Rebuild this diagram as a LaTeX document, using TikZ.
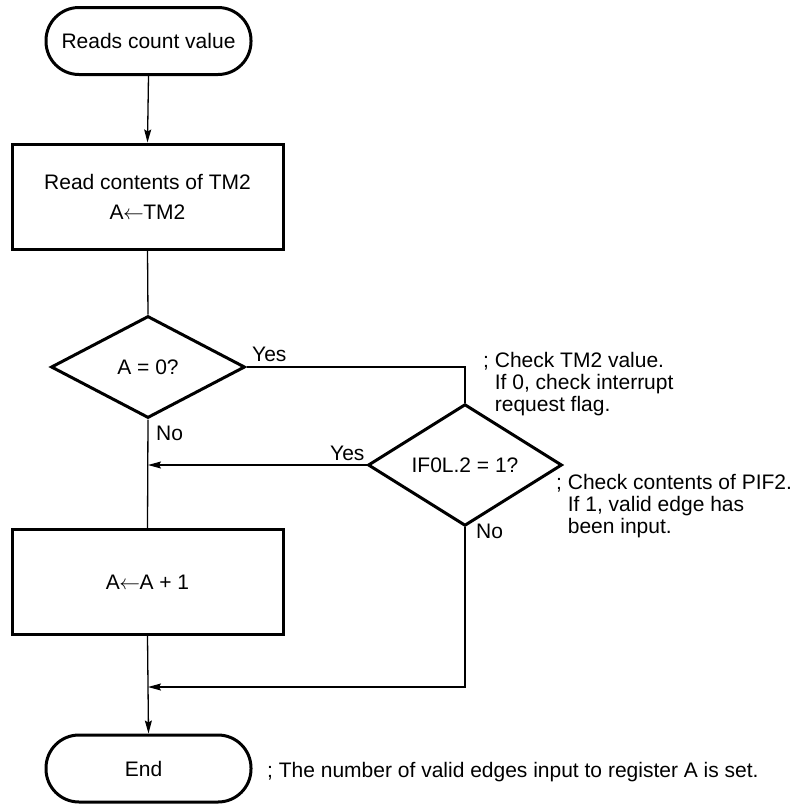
\documentclass[tikz,border=0pt]{standalone}
\usepackage{fontspec}
\setmainfont{Liberation Sans}
\usetikzlibrary{shapes.geometric,arrows.meta}
\newcommand{\assignarrow}{\kern-0.5pt$\leftarrow$\kern-0.5pt}
\begin{document}
\begin{tikzpicture}[x=1pt,y=-1pt,
  font=\fontsize{21}{23}\selectfont,
  shape border/.style={draw=black,line width=3pt,fill=white},
  terminal/.style={shape border,rectangle,rounded corners=33pt,
    minimum width=205pt,minimum height=67pt,inner sep=0pt},
  process/.style={shape border,rectangle,minimum width=271pt,
    minimum height=105pt,inner sep=0pt,align=center},
  decision/.style={shape border,diamond,minimum width=194pt,
    minimum height=102pt,inner sep=0pt},
  flow/.style={draw=black,line width=1.3pt},
  flowarrow/.style={flow,-{Stealth[length=13pt,width=7pt,inset=2pt]}},
  label text/.style={inner sep=0pt,anchor=base west},
  note/.style={inner sep=0pt,anchor=north west,align=left}]
\useasboundingbox (0,0) rectangle (795,804);

% main column of steps
\node[terminal] (start) at (148.5,41) {Reads count value};
\node[process] (read) at (147.5,196.5) {Read contents of TM2\\[7pt]A\assignarrow TM2};
\node[decision] (zero) at (148,367) {A = 0?};
\node[decision] (flag) at (465,465) {IF0L.2 = 1?};
\node[process] (inc) at (147.5,582) {A\assignarrow A + 1};
\node[terminal] (end) at (148.5,768.5) {\hspace*{-10pt}End};

% junctions on the main line
\coordinate (join1) at (148,465);
\coordinate (join2) at (148,687);

% connectors
\draw[flowarrow] (start.south) -- (read.north);
\draw[flow] (read.south) -- (zero.north);
\draw[flow] (zero.south) -- (inc.north);
\draw[flow] (zero.east) -| (flag.north);
\draw[flowarrow] (flag.west) -- (join1);
\draw[flowarrow] (flag.south) |- (join2);
\draw[flowarrow] (inc.south) -- (end.north);

% branch labels
\node[label text] (yes1) at (252,361) {Yes};
\node[label text] (no1) at (156,440) {No};
\node[label text] (yes2) at (330,460) {Yes};
\node[label text] (no2) at (476,538) {No};

% remarks
\node[note] (rem1) at (483,352) {; Check TM2 value.\\[-1pt]
  \phantom{; }If 0, check interrupt\\[-1pt]
  \phantom{; }request flag.};
\node[note] (rem2) at (556,474) {; Check contents of PIF2.\\[-1pt]
  \phantom{; }If 1, valid edge has\\[-1pt]
  \phantom{; }been input.};
\node[label text] (rem3) at (267,777) {; The number of valid edges input to register A is set.};
\end{tikzpicture}
\end{document}
